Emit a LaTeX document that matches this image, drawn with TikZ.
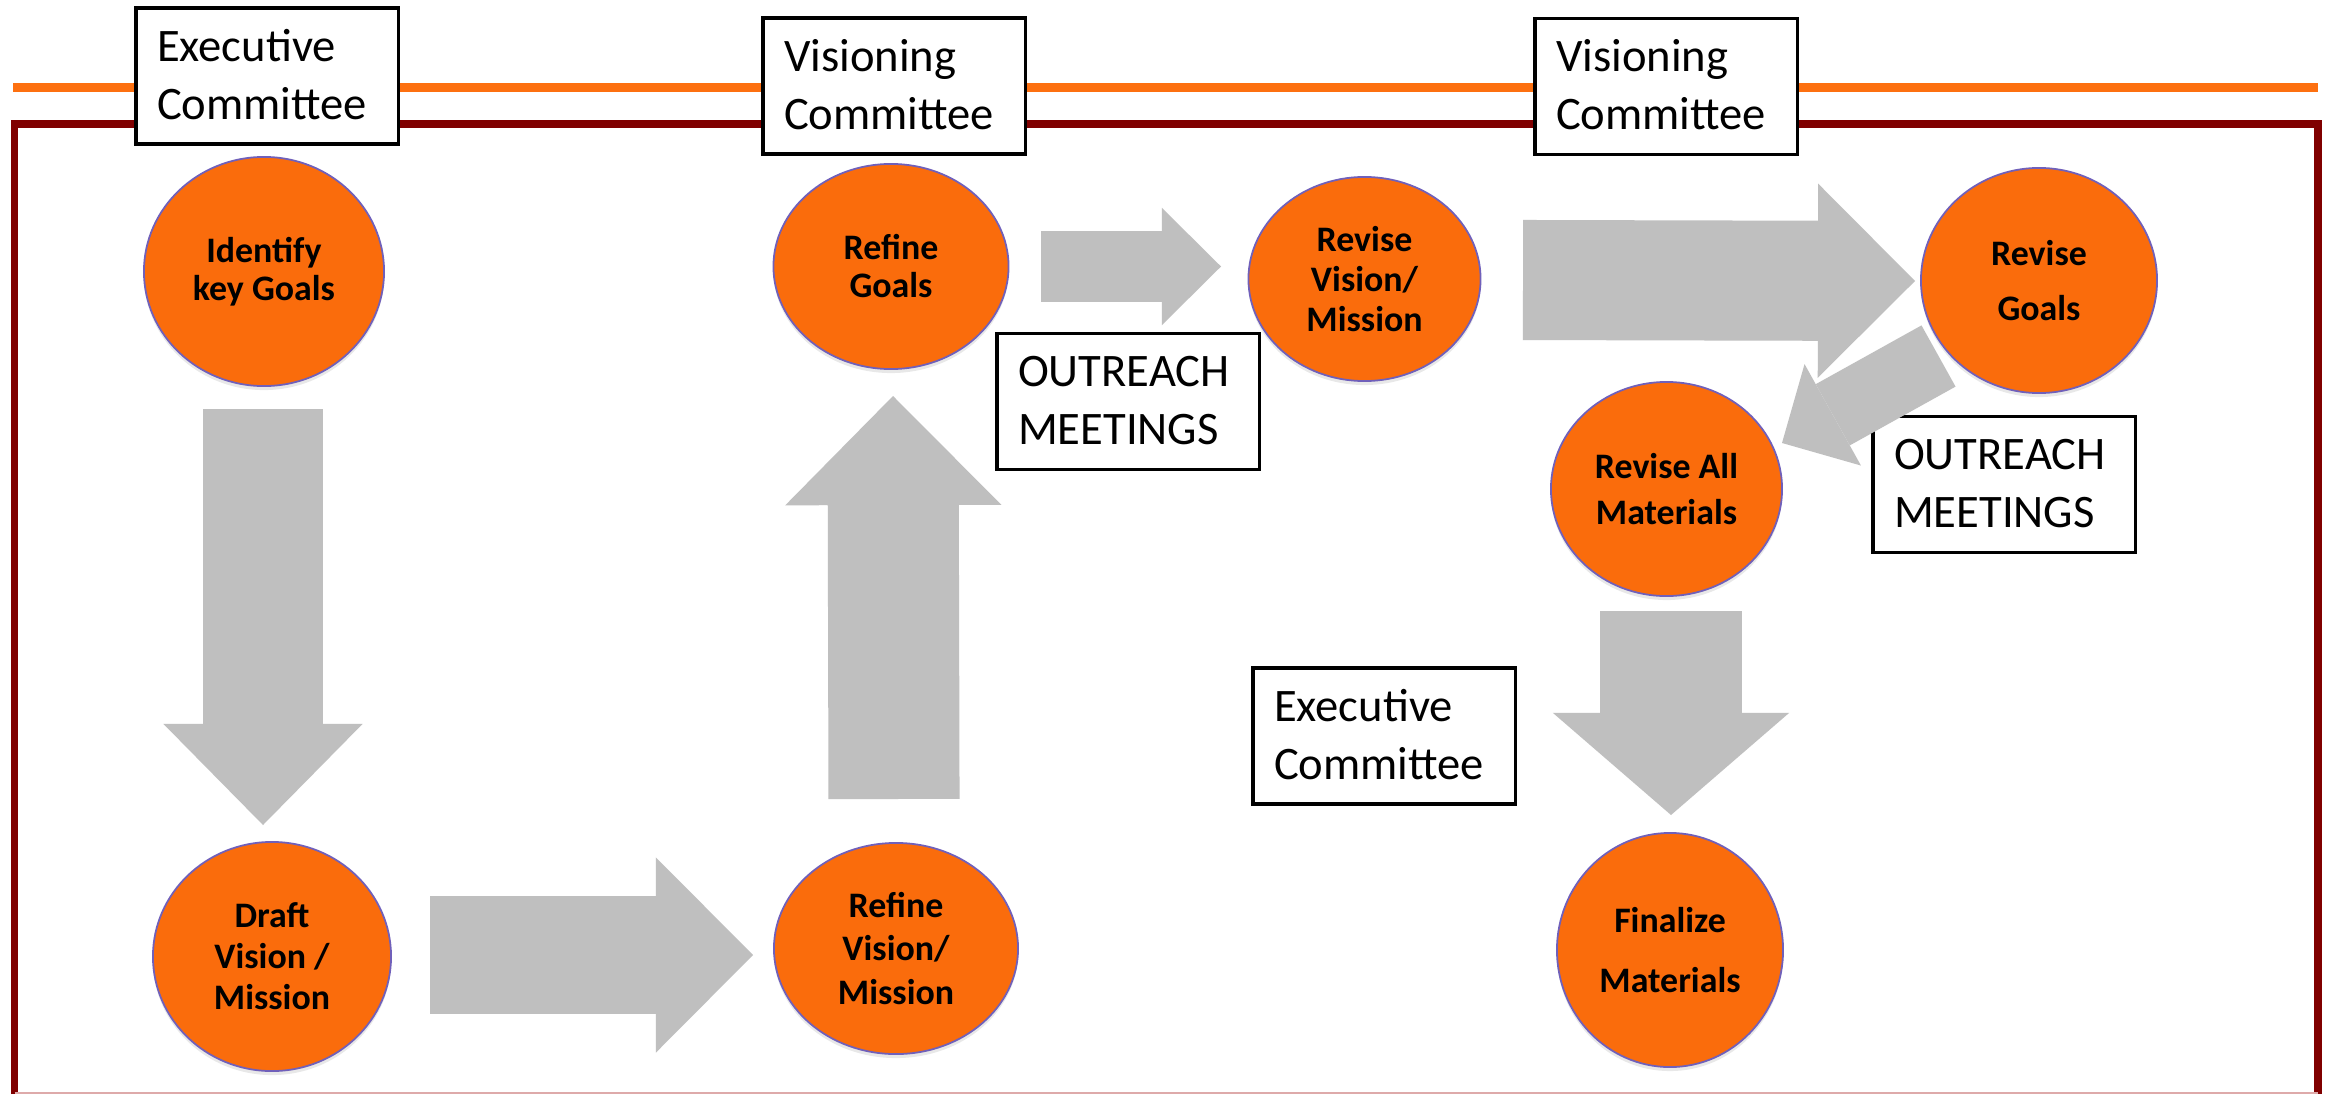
\documentclass[tikz,border=0pt]{standalone}
\usepackage{fontspec}
\setmainfont{Carlito}
\usetikzlibrary{arrows.meta,shapes.geometric,calc,shadows}
\definecolor{orgline}{RGB}{253,112,16}
\definecolor{orgfill}{RGB}{250,108,12}
\definecolor{framered}{RGB}{128,0,0}
\definecolor{pinkline}{RGB}{222,170,170}
\definecolor{ellborder}{RGB}{112,96,186}
\definecolor{arrgray}{RGB}{191,191,191}
\begin{document}
\begin{tikzpicture}[x=0.01cm, y=-0.01cm,
  cbox/.style={draw=black, line width=0.9pt, fill=white, minimum width=2.62cm, minimum height=1.36cm, inner sep=0pt},
  ctext/.style={anchor=base west, inner sep=0pt, text width=2.3cm, align=left, font=\fontsize{13.25}{16.4}\selectfont},
  stage/.style={ellipse, fill=orgfill, draw=ellborder, line width=0.5pt, inner sep=0pt, align=center,
    font=\fontsize{10.2}{#1}\bfseries\selectfont,
    drop shadow={shadow xshift=0pt, shadow yshift=-0.04cm, opacity=0.18}},
  stage/.default=11pt,
  garrow/.style n args={3}{draw=arrgray, color=arrgray, line cap=butt, line width=#1,
    -{Triangle[width=#2, length=#3, line width=0pt]}}
]
\fill[white] (0,0) rectangle (2328,1094);
\useasboundingbox (0,0) rectangle (2328,1094);

% frame lines
\draw[orgline, line width=0.085cm] (13,87.5) -- (2318,87.5);
\draw[framered, line width=0.075cm] (14.5,1094) -- (14.5,124) -- (2318,124) -- (2318,1094);
\draw[pinkline, line width=0.02cm] (14.5,1092.5) -- (2318,1092.5);

% committee / meeting boxes
\node[cbox] (boxA) at (267,76) {};
\node[ctext] (boxAt) at ($(boxA.north west)+(22,55)$) {Executive\\Committee};
\node[cbox] (boxB) at (894,86) {};
\node[ctext] (boxBt) at ($(boxB.north west)+(22,55)$) {Visioning\\Committee};
\node[cbox] (boxC) at (1666,86.5) {};
\node[ctext] (boxCt) at ($(boxC.north west)+(22,55)$) {Visioning\\Committee};
\node[cbox] (boxD) at (1128,401.5) {};
\node[ctext] (boxDt) at ($(boxD.north west)+(22,55)$) {OUTREACH\\MEETINGS};
\node[cbox] (boxE) at (2004,484.5) {};
\node[ctext] (boxEt) at ($(boxE.north west)+(22,55)$) {OUTREACH\\MEETINGS};
\node[cbox] (boxF) at (1384,736) {};
\node[ctext] (boxFt) at ($(boxF.north west)+(22,55)$) {Executive\\Committee};

% arrow end points
\coordinate (a1s) at (263,409);   \coordinate (a1e) at (263,825);
\coordinate (a2s) at (430,955);   \coordinate (a2e) at (753,955);
\coordinate (a3s) at (894,799);   \coordinate (a3e) at (893,396);
\coordinate (a4s) at (1041,266.5);\coordinate (a4e) at (1221,266.5);
\coordinate (a5s) at (1523,280);  \coordinate (a5e) at (1915,281);
\coordinate (a6s) at (1938.5,356);\coordinate (a6e) at (1782,443);
\coordinate (a7s) at (1671,611);  \coordinate (a7e) at (1671,815);

\draw[garrow={1.20cm}{1.99cm}{1.01cm}] (a1s) -- (a1e);
\draw[garrow={1.17cm}{1.95cm}{0.97cm}] (a2s) -- (a2e);
\draw[garrow={1.31cm}{2.16cm}{1.09cm}] (a3s) -- (a3e);
\draw[garrow={0.71cm}{1.17cm}{0.59cm}] (a4s) -- (a4e);
\draw[garrow={1.20cm}{1.94cm}{0.97cm}] (a5s) -- (a5e);
\draw[garrow={0.70cm}{1.16cm}{0.58cm}] (a6s) -- (a6e);
\draw[garrow={1.42cm}{2.36cm}{1.02cm}] (a7s) -- (a7e);

% stages
\node[stage=10.8pt, minimum width=2.40cm, minimum height=2.29cm] (idg) at (264,271.5) {Identify\\key Goals};
\node[stage=10.8pt, minimum width=2.35cm, minimum height=2.05cm] (rg) at (891,266.5) {Refine\\Goals};
\node[stage=11.4pt, minimum width=2.32cm, minimum height=2.04cm] (rvm) at (1364.5,279) {Revise\\Vision/\\Mission};
\node[stage=15.6pt, minimum width=2.36cm, minimum height=2.25cm] (rgl) at (2039,280.5) {Revise\\Goals};
\node[stage=13.1pt, minimum width=2.31cm, minimum height=2.14cm] (ram) at (1666.5,489) {Revise All\\Materials};
\node[stage=17.1pt, minimum width=2.26cm, minimum height=2.34cm] (fm) at (1670,950) {Finalize\\Materials};
\node[stage=11.7pt, minimum width=2.38cm, minimum height=2.29cm] (dvm) at (272,956.5) {Draft\\Vision /\\Mission};
\node[stage=12.5pt, minimum width=2.44cm, minimum height=2.11cm] (rfvm) at (896,948.5) {Refine\\Vision/\\Mission};
\end{tikzpicture}
\end{document}
